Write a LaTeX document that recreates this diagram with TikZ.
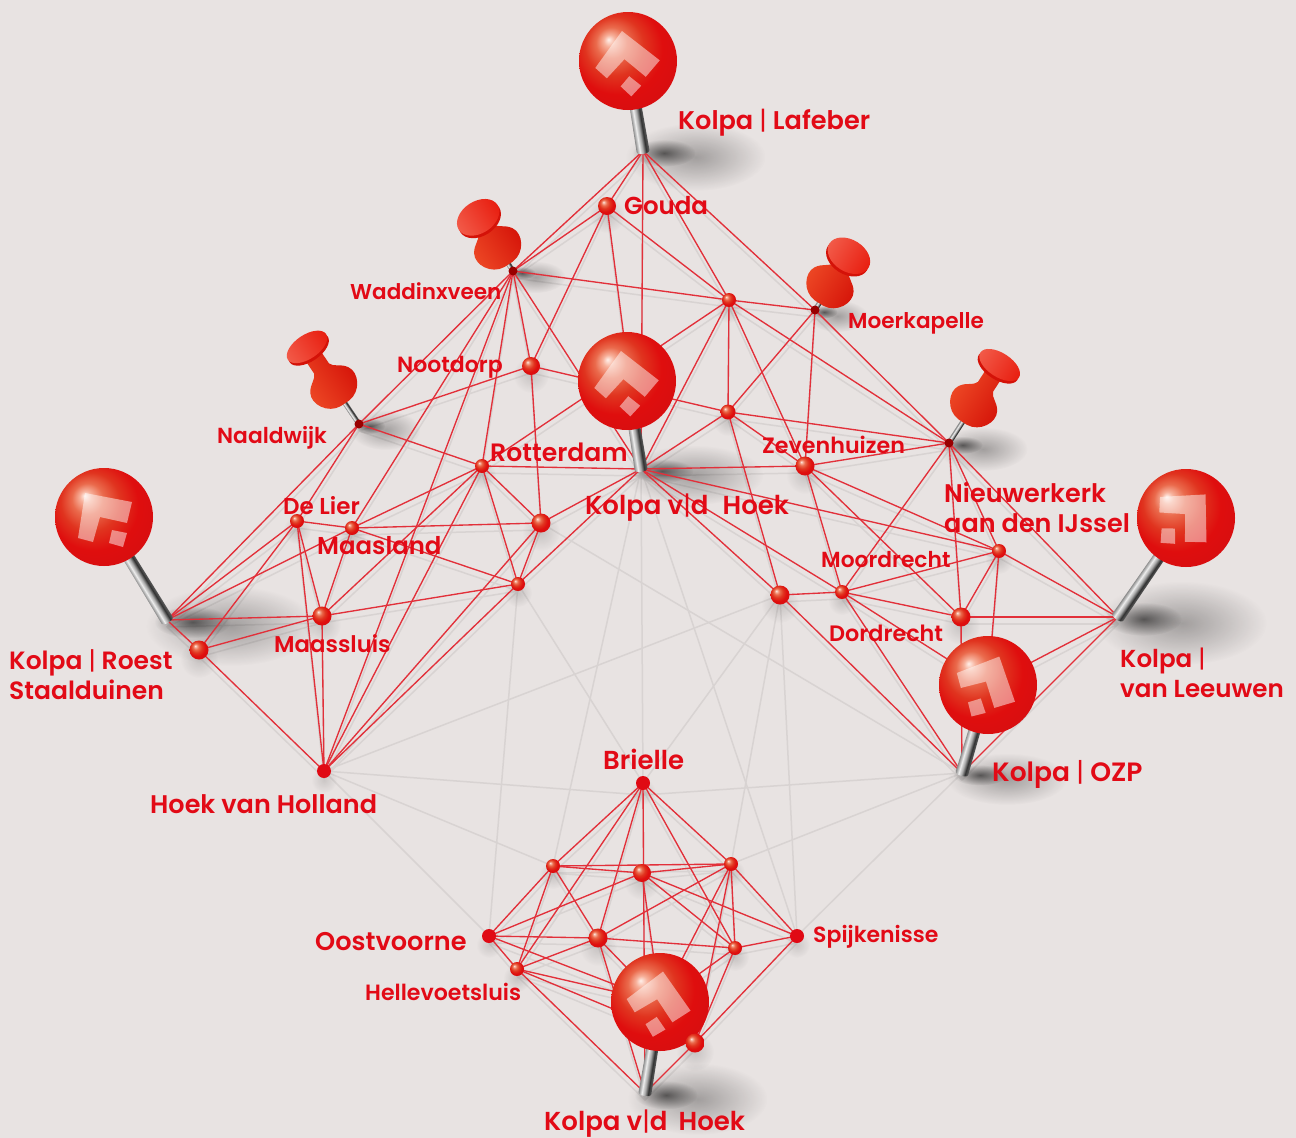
\documentclass[tikz,border=0pt]{standalone}
\usepackage{fontspec}
\setmainfont{Poppins}[BoldFont={Poppins SemiBold}]
\usetikzlibrary{backgrounds,fadings}
\definecolor{paper}{HTML}{E8E3E2}
\definecolor{kolpatext}{HTML}{E20A16}
\definecolor{kolpaline}{HTML}{E2303A}
\definecolor{paleline}{HTML}{D8D3D2}
\definecolor{flatred}{HTML}{E00A14}
\definecolor{redA}{HTML}{FFF0EA}
\definecolor{redB}{HTML}{F7B09A}
\definecolor{redC}{HTML}{EA6A4C}
\definecolor{redD}{HTML}{E0341F}
\definecolor{redE}{HTML}{DF0E0E}
\definecolor{redF}{HTML}{D80E10}
\definecolor{redG}{HTML}{D02424}
\definecolor{redH}{HTML}{D84848}
\definecolor{tackA}{HTML}{EE4A26}
\definecolor{tackB}{HTML}{E81E10}
\definecolor{tackC}{HTML}{D41208}
\definecolor{tackD}{HTML}{F25A48}
\pgfdeclareradialshading{kolpared}{\pgfpoint{-10bp}{11bp}}{%
  color(0bp)=(redA); color(3bp)=(redB); color(8bp)=(redC); color(15bp)=(redD);
  color(23bp)=(redE); color(31bp)=(redF); color(36bp)=(redG); color(41bp)=(redH); color(50bp)=(redH)}
\pgfdeclarehorizontalshading{pinsteel}{100bp}{%
  rgb(0bp)=(.55,.55,.55); rgb(25bp)=(.55,.55,.55); rgb(38bp)=(.93,.93,.93);
  rgb(50bp)=(.65,.65,.65); rgb(62bp)=(.2,.2,.2); rgb(75bp)=(.38,.38,.38); rgb(100bp)=(.38,.38,.38)}
\tikzfading[name=softspot, inner color=transparent!0, outer color=transparent!100]
\tikzstyle{citydot} = [circle, inner sep=0pt, shade, shading=kolpared]
\tikzstyle{flatdot} = [circle, inner sep=0pt, fill=flatred]
\tikzstyle{pintip} = [circle, inner sep=0pt, minimum size=0pt]
\tikzstyle{tacktip} = [circle, inner sep=0pt, minimum size=9pt, fill=red!60!black]
\tikzstyle{pinball} = [circle, inner sep=0pt, minimum size=98pt, shade, shading=kolpared]
\tikzstyle{logomark} = [fill=white, opacity=.48]
\tikzstyle{redlink} = [draw=kolpaline, line width=1.35pt]
\tikzstyle{palelink} = [draw=paleline, line width=1.5pt]
\tikzstyle{softshade} = [fill=black, path fading=softspot]
\tikzset{citylabel/.style={anchor=west, inner sep=0pt, text=kolpatext, align=left,
    font=\bfseries\fontsize{#1}{30}\selectfont}}
\newcommand{\kbar}{{\mdseries|}}
\newcommand{\kolpaball}[6]{% #1: name; #2,#3: ball; #4: logo turn; #5,#6: tip
  \pgfmathsetmacro{\pinturn}{atan2(#5-#2,#6-#3)}
  \pgfmathsetmacro{\pinlen}{veclen(#5-#2,#6-#3)}
  \node[pintip] (#1) at (#5,#6) {};
  \begin{scope}[transform canvas={shift={(#5,#6)},rotate=\pinturn}]
    \shade[shading=pinsteel] (-5.5,-\pinlen) -- (-6.5,0) .. controls (-6.5,4) and (6.5,4) .. (6.5,0) -- (5.5,-\pinlen) -- cycle;
  \end{scope}
  \node[pinball] (#1-ball) at (#2,#3) {};
  \begin{scope}[shift={(#2,#3)},rotate=-#4]
    \fill[logomark] (-19,-24) -- (28,-15) -- (23,6) -- (-4,0) -- (-11,25) -- (-26,21) -- cycle;
    \fill[logomark] (8,13) -- (23,16) -- (19,30) -- (5,26) -- cycle;
  \end{scope}
}
\newcommand{\kolpatack}[7]{% #1: name; #2,#3: tip; #4: turn; #5: needle; #6: head distance; #7: head height
  \begin{scope}[transform canvas={shift={(#2,#3)},rotate=#4}]
    \shade[shading=pinsteel] (-2.5,-#5-6) rectangle (2.5,0);
    \shade[left color=tackA, middle color=tackB, right color=tackC]
      (-5,-#5) .. controls (-20,-#5-1) and (-29,-#5-18) .. (-23,-#5-28)
      .. controls (-18,-#5-36) and (-11,-#5-36) .. (-9,-#5-42) -- (-9,-#6+4)
      -- (9,-#6+4) -- (9,-#5-42) .. controls (11,-#5-36) and (18,-#5-36) .. (23,-#5-28)
      .. controls (29,-#5-18) and (20,-#5-1) .. (5,-#5) -- cycle;
    \fill[tackC] (0,-#6+3) ellipse [x radius=23pt, y radius=#7 pt];
    \shade[left color=tackD, right color=tackB] (0,-#6) ellipse [x radius=23pt, y radius=#7 pt];
  \end{scope}
  \node[tacktip] (#1) at (#2,#3) {};
}
\newcommand{\citydots}{%
  gouda/607/206/18,dotA/729/300/14,nootdorp/531/366/18,
  dotB/728/412/15,rotterdam/482/466/14,zevenhuizen/805/466/19,delier/297/521/14,
  maasland/352/528/14,dotC/541/523/19,dotD/518/584/14,maassluis/322/616/19,dotE/199/650/19,
  dotF/999/551/14,moordrecht/842/592/14,dotG/780/595/19,dordrecht/961/617/19,
  dotH/553/866/14,dotL/642/873/18,dotK/731/864/14,dotI/598/938/19,dotJ/735/948/14,
  hellevoet/517/969/14,dotM/695/1043/19%
}
\newcommand{\flatdots}{hoekholland/324/771,brielle/643/783,oostvoorne/489/936,spijkenisse/797/936}
\newcommand{\redlinks}{%
  lafeber/waddinx,lafeber/gouda,lafeber/vdhoek,lafeber/dotA,lafeber/moerkapelle,
  gouda/waddinx,gouda/nootdorp,gouda/vdhoek,gouda/dotA,
  waddinx/dotA,dotA/moerkapelle,waddinx/naaldwijk,waddinx/maasland,waddinx/hoekholland,
  waddinx/rotterdam,waddinx/nootdorp,waddinx/vdhoek,
  naaldwijk/nootdorp,naaldwijk/rotterdam,naaldwijk/roest,naaldwijk/delier,
  roest/delier,roest/maasland,roest/maassluis,roest/dotE,
  dotE/delier,dotE/maassluis,dotE/hoekholland,
  delier/maasland,delier/maassluis,delier/hoekholland,
  maasland/rotterdam,maasland/dotC,maasland/maassluis,maasland/dotD,
  maassluis/rotterdam,maassluis/dotD,maassluis/hoekholland,
  rotterdam/vdhoek,rotterdam/dotC,rotterdam/dotD,rotterdam/dotA,rotterdam/hoekholland,
  nootdorp/dotC,nootdorp/dotB,dotC/vdhoek,dotC/dotD,dotC/hoekholland,dotD/vdhoek,dotD/hoekholland,
  vdhoek/zevenhuizen,vdhoek/dotB,vdhoek/dotA,vdhoek/dotF,vdhoek/moordrecht,vdhoek/dotG,
  dotA/dotB,dotA/zevenhuizen,dotA/ijssel,dotB/moerkapelle,dotB/ijssel,dotB/zevenhuizen,dotB/dotG,
  moerkapelle/zevenhuizen,moerkapelle/ijssel,
  ijssel/zevenhuizen,ijssel/moordrecht,ijssel/dordrecht,ijssel/dotF,ijssel/leeuwen,
  zevenhuizen/dotF,zevenhuizen/moordrecht,zevenhuizen/dordrecht,
  dotF/moordrecht,dotF/dordrecht,dotF/ozp-ball,dotF/leeuwen,
  moordrecht/dotG,moordrecht/dordrecht,moordrecht/ozp,moordrecht/ozp-ball,
  dotG/ozp,dordrecht/leeuwen,dordrecht/ozp,leeuwen/ozp,leeuwen/ozp-ball,
  brielle/dotH,brielle/hellevoet,brielle/dotI,brielle/vdhoekzuid,brielle/dotJ,brielle/dotK,
  dotH/dotL,dotH/dotK,dotH/oostvoorne,dotH/hellevoet,dotH/dotI,
  dotL/oostvoorne,dotL/dotK,dotL/dotJ,dotL/spijkenisse,dotL/vdhoekzuid-ball,
  dotK/dotI,dotK/dotJ,dotK/spijkenisse,dotK/vdhoekzuid-ball,dotK/dotM,
  oostvoorne/dotI,oostvoorne/hellevoet,oostvoorne/vdhoekzuid-ball,
  dotI/dotJ,dotI/hellevoet,dotI/vdhoekzuid-ball,dotI/vdhoekzuid,
  dotJ/spijkenisse,dotJ/vdhoekzuid-ball,dotJ/dotM,
  hellevoet/vdhoekzuid-ball,hellevoet/dotM,hellevoet/vdhoekzuid,
  spijkenisse/dotM,dotM/vdhoekzuid%
}
\newcommand{\palelinks}{%
  dotD/oostvoorne,dotD/brielle,vdhoek/dotH,vdhoek/brielle,vdhoek/spijkenisse,
  dotG/brielle,dotG/dotK,dotG/spijkenisse,dotG/hoekholland,dotC/ozp,
  hoekholland/brielleshade,ozp/brielleshade,hoekholland/dotH,hoekholland/oostvoorne,
  ozp/dotK,ozp/spijkenisse%
}
\begin{document}
\begin{tikzpicture}[x=1pt,y=-1pt]
  \useasboundingbox (0,0) rectangle (1296,1138);
  % pins with a ball
  \kolpaball{lafeber}{628}{61}{27}{643}{151}
  \kolpaball{vdhoek}{627}{381}{27}{641}{469}
  \kolpaball{roest}{104}{517}{0}{167}{620}
  \kolpaball{leeuwen}{1186}{518}{78}{1118}{617}
  \kolpaball{ozp}{988}{685}{60}{962}{773}
  \kolpaball{vdhoekzuid}{660}{1002}{44}{645}{1093}
  % pins with a tack
  \kolpatack{waddinx}{513}{271}{33}{8}{64}{16}
  \kolpatack{moerkapelle}{815}{310}{-32}{8}{64}{16}
  \kolpatack{naaldwijk}{359}{424}{34}{25}{93}{12}
  \kolpatack{ijssel}{949}{443}{-33}{25}{93}{12}
  % towns
  \coordinate (brielleshade) at (643,795);
  \foreach \dotname/\x/\y/\size in \citydots
    \node[citydot, minimum size=\size pt] (\dotname) at (\x,\y) {};
  \foreach \dotname/\x/\y in \flatdots
    \node[flatdot, minimum size=14pt] (\dotname) at (\x,\y) {};
  % labels
  \node[citylabel=25.6] (t-lafeber) at (678,123) {Kolpa \kbar{} Lafeber};
  \node[citylabel=24.5] (t-gouda) at (624,206) {Gouda};
  \node[citylabel=21.5] (t-waddinx) at (350,291) {Waddinxveen};
  \node[citylabel=21.6] (t-moerkapelle) at (848,323) {Moerkapelle};
  \node[citylabel=22] (t-nootdorp) at (397,367) {Nootdorp};
  \node[citylabel=21.8] (t-naaldwijk) at (217,438) {Naaldwijk};
  \node[citylabel=25.1] (t-rotterdam) at (490,452) {Rotterdam};
  \node[citylabel=22.2] (t-zevenhuizen) at (762,445) {Zevenhuizen};
  \node[citylabel=23] (t-delier) at (283,506) {De Lier};
  \node[citylabel=26] (t-vdhoek) at (585,508) {Kolpa v\kbar{}d\hspace{8pt} Hoek};
  \node[citylabel=25.5] (t-ijssel) at (944,508) {Nieuwerkerk\\aan den IJssel};
  \node[citylabel=24.4] (t-maasland) at (317,546) {Maasland};
  \node[citylabel=21.8] (t-moordrecht) at (821,560) {Moordrecht};
  \node[citylabel=22.3] (t-dordrecht) at (829,633) {Dordrecht};
  \node[citylabel=22.8] (t-maassluis) at (274,644) {Maassluis};
  \node[citylabel=25] (t-roest) at (9,675) {Kolpa \kbar{} Roest\\Staalduinen};
  \node[citylabel=24.6] (t-leeuwen) at (1120,673) {Kolpa \kbar{}\\van Leeuwen};
  \node[citylabel=26.5] (t-ozp) at (992,774) {Kolpa \kbar{} OZP};
  \node[citylabel=25.5] (t-hoekholland) at (150,804) {Hoek van Holland};
  \node[citylabel=26] (t-brielle) at (603,759) {Brielle};
  \node[citylabel=22] (t-spijkenisse) at (813,937) {Spijkenisse};
  \node[citylabel=25.6] (t-oostvoorne) at (315,942) {Oostvoorne};
  \node[citylabel=22.1] (t-hellevoet) at (365,992) {Hellevoetsluis};
  \node[citylabel=26] (t-vdhoekzuid) at (544,1124) {Kolpa v\kbar{}d\hspace{5pt} Hoek};
  % everything under the pins
  \begin{scope}[on background layer]
    \fill[paper] (0,0) rectangle (1296,1138);
    \foreach \p/\q in \palelinks
      \draw[palelink] (\p.center) -- (\q.center);
    \foreach \p/\q in \redlinks
      \draw[palelink] ([yshift=-7pt]\p.center) -- ([yshift=-7pt]\q.center);
    \foreach \pin/\rx/\ry in {lafeber/70/34,vdhoek/70/30,roest/85/40,leeuwen/85/42,ozp/60/26,vdhoekzuid/70/36,
      waddinx/30/16,moerkapelle/30/16,naaldwijk/35/20,ijssel/45/22}
      {
      \fill[softshade, opacity=.3] ([shift={(\rx*0.75,6)}]\pin.center) ellipse [x radius=\rx pt, y radius=\ry pt];
      \fill[softshade, opacity=.55] ([shift={(\rx*0.3,2)}]\pin.center) ellipse [x radius=\rx*0.45 pt, y radius=\ry*0.4 pt];
      }
    \foreach \dotname/\x/\y/\size in \citydots
      \fill[softshade, opacity=.14] ([yshift=-9pt]\dotname.center) circle (\size pt);
    \foreach \dotname/\x/\y in \flatdots
      \fill[softshade, opacity=.12] ([yshift=-9pt]\dotname.center) circle (13pt);
    \foreach \p/\q in \redlinks
      \draw[redlink] (\p.center) -- (\q.center);
  \end{scope}
\end{tikzpicture}
\end{document}
